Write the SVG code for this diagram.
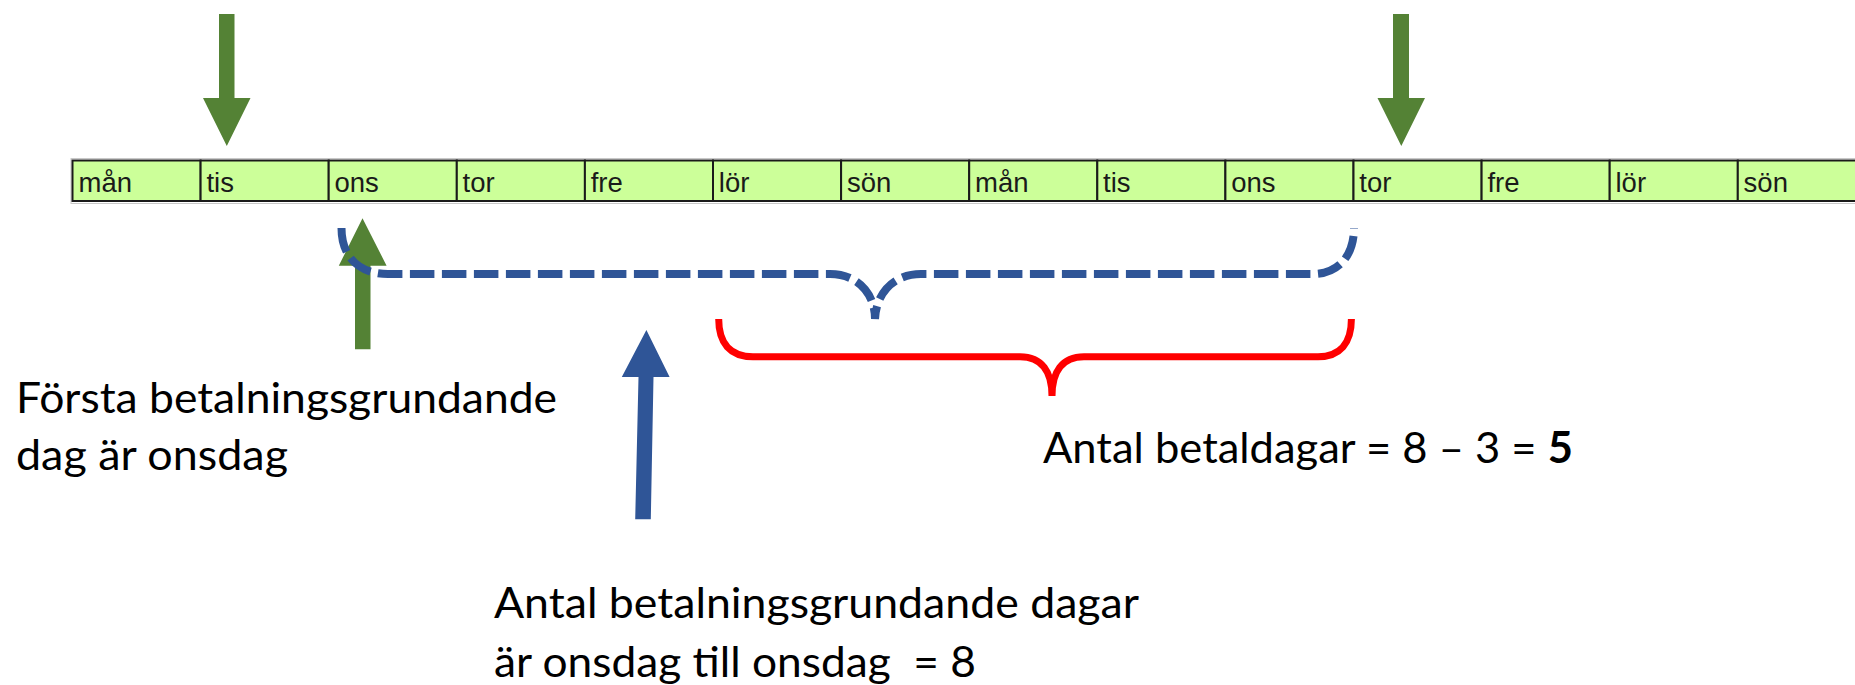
<svg xmlns="http://www.w3.org/2000/svg" width="1855" height="685" viewBox="0 0 1855 685">
<style>
.cell{fill:#CCFF99;stroke:#1a1a1a;stroke-width:2}
.day{font-family:"Liberation Sans",Arial,sans-serif;font-size:27.5px;fill:#1a1a1a}
.lbl{font-family:Lato,"Liberation Sans",sans-serif;font-size:43px;fill:#000;white-space:pre}
.green{fill:#548235}
.blue{fill:#2F5597}
</style>
<rect x="71" y="158.5" width="1800" height="45" fill="none" stroke="#c8c8c8" stroke-width="1"/>
<g id="cell1"><rect class="cell" x="72.5" y="160.5" width="128.1" height="40.5"/><text class="day" x="78.5" y="191.5">mån</text></g>
<g id="cell2"><rect class="cell" x="200.6" y="160.5" width="128.1" height="40.5"/><text class="day" x="206.4" y="191.5">tis</text></g>
<g id="cell3"><rect class="cell" x="328.7" y="160.5" width="128.1" height="40.5"/><text class="day" x="334.5" y="191.5">ons</text></g>
<g id="cell4"><rect class="cell" x="456.8" y="160.5" width="128.1" height="40.5"/><text class="day" x="462.6" y="191.5">tor</text></g>
<g id="cell5"><rect class="cell" x="584.9" y="160.5" width="128.1" height="40.5"/><text class="day" x="590.7" y="191.5">fre</text></g>
<g id="cell6"><rect class="cell" x="713" y="160.5" width="128.1" height="40.5"/><text class="day" x="718.8" y="191.5">lör</text></g>
<g id="cell7"><rect class="cell" x="841.1" y="160.5" width="128.1" height="40.5"/><text class="day" x="846.9" y="191.5">sön</text></g>
<g id="cell8"><rect class="cell" x="969.2" y="160.5" width="128.1" height="40.5"/><text class="day" x="975" y="191.5">mån</text></g>
<g id="cell9"><rect class="cell" x="1097.3" y="160.5" width="128.1" height="40.5"/><text class="day" x="1103.1" y="191.5">tis</text></g>
<g id="cell10"><rect class="cell" x="1225.4" y="160.5" width="128.1" height="40.5"/><text class="day" x="1231.2" y="191.5">ons</text></g>
<g id="cell11"><rect class="cell" x="1353.5" y="160.5" width="128.1" height="40.5"/><text class="day" x="1359.3" y="191.5">tor</text></g>
<g id="cell12"><rect class="cell" x="1481.6" y="160.5" width="128.1" height="40.5"/><text class="day" x="1487.4" y="191.5">fre</text></g>
<g id="cell13"><rect class="cell" x="1609.7" y="160.5" width="128.1" height="40.5"/><text class="day" x="1615.5" y="191.5">lör</text></g>
<g id="cell14"><rect class="cell" x="1737.8" y="160.5" width="128.1" height="40.5"/><text class="day" x="1743.6" y="191.5">sön</text></g>

<g id="connectors">
<polygon class="green" points="219,14 234.5,14 234.5,98 250.5,98 226.8,146 203,98 219,98"/>
<polygon class="green" points="1393,14 1409,14 1409,98 1425,98 1401.3,146 1377.5,98 1393,98"/>
<polygon class="green" points="355,349.3 370.5,349.3 370.5,265.7 386.6,265.7 362.5,218.3 338.8,265.7 355,265.7"/>
<polygon class="blue" points="635.2,519.3 650.8,519.3 653.5,377 669.6,377 646.4,330 621.8,377 638.5,377"/>
<path d="M341.5,228 C341.5,256 358,274 388,274 L830,274 C858,274 875,294 875,319 C876,294 893,274 921,274 L1313,274 C1338,274 1354,256 1354,228" fill="none" stroke="#2F5597" stroke-width="8" stroke-dasharray="24.5 7.5"/>
<path d="M718.7,319 C718.7,343 730,356.7 753,356.7 L1020,356.7 C1042,356.7 1052,372 1052,396 C1052,372 1062,356.7 1084,356.7 L1318,356.7 C1340,356.7 1351.4,343 1351.4,319" fill="none" stroke="#FF0000" stroke-width="7"/>
</g>

<g id="label-first">
<text class="lbl" x="16" y="413.3" textLength="541" lengthAdjust="spacingAndGlyphs">Första betalningsgrundande</text>
<text class="lbl" x="16" y="470" textLength="272" lengthAdjust="spacingAndGlyphs">dag är onsdag</text>
</g>
<g id="label-count">
<text class="lbl" x="494" y="618.3" textLength="645" lengthAdjust="spacingAndGlyphs">Antal betalningsgrundande dagar</text>
<text class="lbl" x="494" y="676.7" textLength="482" lengthAdjust="spacingAndGlyphs">är onsdag till onsdag  = 8</text>
</g>
<g id="label-paid">
<text class="lbl" x="1043" y="463" textLength="530" lengthAdjust="spacingAndGlyphs">Antal betaldagar = 8 – 3 = <tspan font-weight="bold">5</tspan></text>
</g>
</svg>
